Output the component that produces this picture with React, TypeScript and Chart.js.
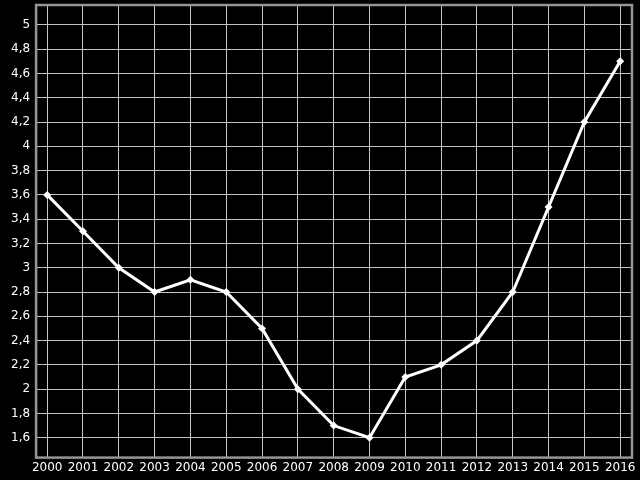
import { useEffect, useRef } from "react";
import { Chart, registerables } from "chart.js";

Chart.register(...registerables);

const years = [2000, 2001, 2002, 2003, 2004, 2005, 2006, 2007, 2008, 2009, 2010, 2011, 2012, 2013, 2014, 2015, 2016];
const values = [3.6, 3.3, 3.0, 2.8, 2.9, 2.8, 2.5, 2.0, 1.7, 1.6, 2.1, 2.2, 2.4, 2.8, 3.5, 4.2, 4.7];
const yTicks = [1.6, 1.8, 2, 2.2, 2.4, 2.6, 2.8, 3, 3.2, 3.4, 3.6, 3.8, 4, 4.2, 4.4, 4.6, 4.8, 5];

// draws the grey frame on all four sides of the plot area
const frame = {
    id: "frame",
    afterDatasetsDraw(chart: Chart) {
        const { ctx, chartArea } = chart;
        ctx.save();
        ctx.strokeStyle = "#959595";
        ctx.lineWidth = 2.5;
        ctx.strokeRect(chartArea.left, chartArea.top, chartArea.right - chartArea.left, chartArea.bottom - chartArea.top);
        ctx.restore();
    },
};

// labels never sit at the plot edges here, so drop the edge padding chart.js reserves for them
const noEdgePadding = (scale: any) => {
    scale.paddingTop = 0;
    scale.paddingBottom = 0;
    scale.paddingLeft = 0;
    scale.paddingRight = 0;
};

export default function App() {
    const canvasRef = useRef<HTMLCanvasElement | null>(null);

    useEffect(() => {
        if (!canvasRef.current) {
            return;
        }
        const font = { family: "DejaVu Sans", size: 12 };

        const chart = new Chart(canvasRef.current, {
            type: "line",
            data: {
                datasets: [
                    {
                        data: years.map((y, i) => ({ x: y, y: values[i] })),
                        borderColor: "#ffffff",
                        backgroundColor: "#ffffff",
                        borderWidth: 3,
                        pointStyle: "rectRot",
                        pointRadius: 4,
                        pointBorderWidth: 0,
                        tension: 0,
                        clip: false,
                    },
                ],
            },
            options: {
                animation: false,
                responsive: false,
                layout: { padding: { left: 5, right: 8, top: 5, bottom: 2 } },
                plugins: {
                    legend: { display: false },
                    tooltip: { enabled: false },
                },
                scales: {
                    x: {
                        type: "linear",
                        min: 1999.69,
                        max: 2016.33,
                        afterBuildTicks: (scale) => {
                            scale.ticks = years.map((v) => ({ value: v }));
                        },
                        afterFit: noEdgePadding,
                        grid: { color: "#c4c4c4", lineWidth: 1, drawTicks: false },
                        border: { display: false },
                        ticks: {
                            color: "#ffffff",
                            font,
                            padding: 3,
                            maxRotation: 0,
                            autoSkip: false,
                            callback: (v) => String(v),
                        },
                    },
                    y: {
                        min: 1.436,
                        max: 5.164,
                        afterBuildTicks: (scale) => {
                            scale.ticks = yTicks.map((v) => ({ value: v }));
                        },
                        afterFit: noEdgePadding,
                        grid: { color: "#c4c4c4", lineWidth: 1, drawTicks: false },
                        border: { display: false },
                        ticks: {
                            color: "#ffffff",
                            font,
                            padding: 6,
                            autoSkip: false,
                            callback: (v) => String(Math.round(Number(v) * 10) / 10).replace(".", ","),
                        },
                    },
                },
            },
            plugins: [frame],
        });

        return () => chart.destroy();
    }, []);

    return (
        <div style={{ position: "fixed", left: 0, top: 0, width: 640, height: 480, background: "#000" }}>
            <canvas ref={canvasRef} width={640} height={480} />
        </div>
    );
}
